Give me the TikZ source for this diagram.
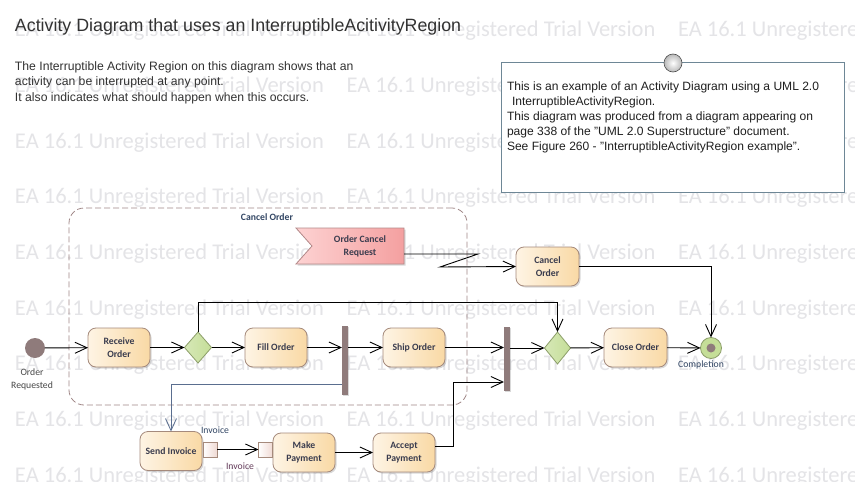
\documentclass[tikz,border=0pt]{standalone}
\usepackage{fontspec}
\setmainfont{Liberation Sans}
\newfontfamily\carl{Carlito}
\usetikzlibrary{arrows.meta,shapes.geometric,shadows,calc}
\definecolor{wm}{RGB}{228,228,231}
\definecolor{actL}{RGB}{254,244,228}
\definecolor{actR}{RGB}{249,217,165}
\definecolor{actB}{RGB}{165,138,124}
\definecolor{txt}{RGB}{58,60,78}
\definecolor{decF}{RGB}{197,222,152}
\definecolor{decB}{RGB}{140,158,105}
\definecolor{barc}{RGB}{143,123,123}
\definecolor{ocrL}{RGB}{253,210,210}
\definecolor{ocrR}{RGB}{244,160,160}
\definecolor{ocrB}{RGB}{180,138,138}
\definecolor{regB}{RGB}{160,135,135}
\definecolor{noteB}{RGB}{110,135,150}
\definecolor{blueline}{RGB}{90,110,143}
\definecolor{headtxt}{RGB}{50,50,50}
\definecolor{lbltxt}{RGB}{50,70,100}
\definecolor{invtxt}{RGB}{100,60,90}
\definecolor{pinR}{RGB}{240,218,212}
\begin{document}
\begin{tikzpicture}[x=1pt,y=-1pt,
  every node/.style={inner sep=0pt, outer sep=0pt},
  wmtext/.style={anchor=base west, text=wm, font=\carl\fontsize{22.5}{27}\selectfont},
  act/.style={draw=actB, line width=0.8pt, rounded corners=8pt, left color=actL, right color=actR,
    minimum width=62pt, minimum height=39pt, align=center,
    font=\carl\bfseries\fontsize{9.7}{12.5}\selectfont, text=txt,
    drop shadow={shadow xshift=1.5pt, shadow yshift=-1.5pt, fill=black, opacity=0.15}},
  decision/.style={diamond, draw=decB, line width=0.8pt, left color=decF!70!white, right color=decF,
    minimum width=27pt, minimum height=31pt},
  barst/.style={rectangle, fill=barc, minimum width=6pt,
    drop shadow={shadow xshift=1.2pt, shadow yshift=-1.2pt, fill=black, opacity=0.15}},
  pinst/.style={rectangle, draw=actB, line width=0.8pt, left color=white, right color=pinR,
    minimum width=14pt, minimum height=15pt},
  lbl/.style={font=\carl\fontsize{9.7}{13}\selectfont, text=lbltxt, align=center},
  conn/.style={draw=black, line width=0.9pt, -{Straight Barb[length=12pt,width=11pt]}},
]
\useasboundingbox (0,0) rectangle (855,482);
\clip (0,0) rectangle (855,482);
\fill[white] (0,0) rectangle (855,482);

% watermark
\foreach \r in {0,...,8} {
  \foreach \c in {0,1,2} {
    \node[wmtext] (wm-\r-\c) at (15+331.5*\c, 36.6+55.7*\r) {EA 16.1 Unregistered Trial Version};
  }
}

% title and description
\node[anchor=west, font=\fontsize{17.8}{21}\selectfont, text=headtxt] (title) at (15,27)
  {Activity Diagram that uses an InterruptibleAcitivityRegion};
\node[anchor=north west, align=left, font=\fontsize{12.2}{15.5}\selectfont, text=headtxt] (desc) at (15,61.5)
  {The Interruptible Activity Region on this diagram shows that an\\
   activity can be interrupted at any point.\\
   It also indicates what should happen when this occurs.};

% note
\node[draw=noteB, fill=white, line width=0.8pt, minimum width=343pt, minimum height=130pt] (note) at (672.5,127) {};
\node[anchor=north west, align=left, font=\fontsize{12.05}{15}\selectfont, text=black!88] (notetext) at (507,81.5)
  {This is an example of an Activity Diagram using a UML 2.0\\
   \hspace*{5pt}InterruptibleActivityRegion.\\
   This diagram was produced from a diagram appearing on\\
   page 338 of the "UML 2.0 Superstructure" document.\\
   See Figure 260 - "InterruptibleActivityRegion example".};
\node[circle, draw=gray!60!black, line width=0.6pt, inner color=white, outer color=gray!55, minimum size=18pt] (notepin) at (673,63) {};

% interruptible region
\node[draw=regB, line width=0.8pt, dash pattern=on 6pt off 3pt, rounded corners=15pt,
  minimum width=398pt, minimum height=197pt] (region) at (268,306.5) {};
\node[font=\carl\bfseries\fontsize{9.7}{12}\selectfont, text=lbltxt] (regionlbl) at (267,217.5) {Cancel Order};

% nodes
\node[circle, fill=barc, minimum size=20pt] (start) at (35,348) {};
\node[lbl, text=headtxt!90] (startlbl) at (32,379) {Order\\Requested};
\node[act] (recv) at (119,347.5) {Receive\\Order};
\node[decision] (dec1) at (198,347.5) {};
\node[act] (fill) at (276,347.5) {Fill Order};
\node[barst, minimum height=69pt] (fork1) at (345,360.5) {};
\node[act] (ship) at (414,347.5) {Ship Order};
\node[barst, minimum height=64pt] (join2) at (507,359) {};
\node[decision, minimum width=26pt, minimum height=32pt] (dec2) at (557.5,348) {};
\node[act, minimum width=63pt] (close) at (635.5,347.5) {Close Order};
\node[circle, fill=decF, draw=decB, line width=0.8pt, minimum size=21pt] (final) at (711,348) {};
\node[circle, fill=barc, minimum size=9pt] (finaldot) at (final) {};
\node[lbl] (finallbl) at (701,365) {Completion};
\node[act, minimum width=63pt] (cancel) at (547.5,266.5) {Cancel\\Order};

\node[minimum width=108pt, minimum height=36pt] (ocr) at (350,246) {};
\draw[draw=ocrB, line width=0.8pt, left color=ocrL, right color=ocrR,
  drop shadow={shadow xshift=1.5pt, shadow yshift=-1.5pt, fill=black, opacity=0.15}]
  (ocr.north west) -- (ocr.north east) -- (ocr.south east) -- (ocr.south west) -- ([xshift=16pt]ocr.west) -- cycle;
\node[font=\carl\bfseries\fontsize{9.7}{12.5}\selectfont, text=txt, align=center] (ocrlbl) at (360,246.5) {Order Cancel\\Request};

\node[act] (send) at (171,451) {Send Invoice};
\node[pinst] (pin1) at (210,449.5) {};
\node[act] (make) at (304,452.5) {Make\\Payment};
\node[pinst] (pin2) at (265.5,449.5) {};
\node[act] (accept) at (404,452.5) {Accept\\Payment};
\node[lbl] (inv1) at (215,430) {Invoice};
\node[lbl, text=invtxt] (inv2) at (240,466.5) {Invoice};

% connectors
\draw[conn] (start) -- (recv);
\draw[conn] (recv) -- (dec1);
\draw[conn] (dec1) -- (fill);
\draw[conn] (fill.east) -- (fill.east -| fork1.west);
\draw[conn] (ship.west -| fork1.east) -- (ship.west);
\draw[conn, draw=blueline, line width=0.8pt] ([yshift=11pt]fork1.south west) -| (send.north);
\draw[conn] (ship.east) -- (ship.east -| join2.west);
\draw[conn] (pin1.east) -- (pin2.west);
\draw[conn] (make.east) -- (accept.west);
\draw[conn] ([yshift=6pt]accept.east) -- ++(18,0) |- ([yshift=9pt]join2.south west);
\draw[conn] (dec2.west -| join2.east) -- (dec2.west);
\draw[conn] (dec1.north) -- ++(0,-30) -| (dec2.north);
\draw[conn] (dec2) -- (close);
\draw[conn] (close) -- (final);
\draw[conn] (cancel.east) -| (final.north);
\draw[conn] ([yshift=-8pt]ocr.east) -- ++(74,0) -- ++(-38,13) -- (cancel.west);
\end{tikzpicture}
\end{document}
